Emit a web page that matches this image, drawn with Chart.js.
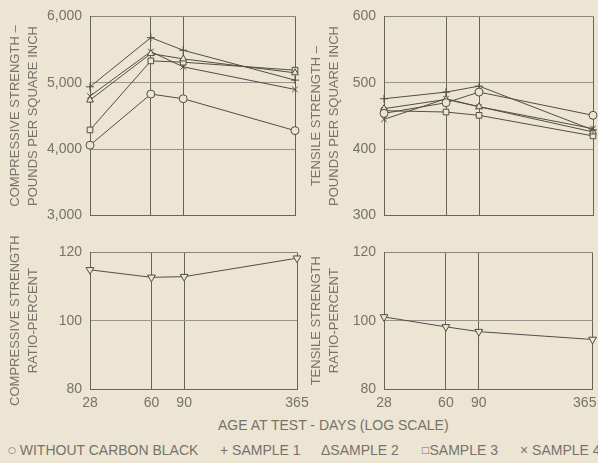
<!DOCTYPE html>
<html lang="en">
	<head>
		<meta charset="UTF-8" />
		<title>Compressive and Tensile Strength vs Age</title>
		<script src="https://cdn.jsdelivr.net/npm/chart.js"></script>
		<style>
			html,
			body {
				margin: 0;
				padding: 0;
				background: #ece5d3;
			}
			#wrap {
				position: relative;
				width: 598px;
				height: 463px;
				overflow: hidden;
				background: #ece5d3;
				font-family: "Liberation Sans", Arial, sans-serif;
				color: #77726a;
			}
			.box {
				position: absolute;
			}
			.txt {
				position: absolute;
				white-space: pre;
				font-size: 14px;
				line-height: 16px;
			}
			.sym {
				font-family: "DejaVu Sans", sans-serif;
				font-size: 9px;
				position: relative;
				top: -2px;
			}
		</style>
	</head>
	<body>
		<div id="wrap">
			<div class="box" style="left: 0; top: 0; width: 300px; height: 232px">
				<canvas id="compChart"></canvas>
			</div>
			<div class="box" style="left: 298px; top: 0; width: 300px; height: 232px">
				<canvas id="tensChart"></canvas>
			</div>
			<div class="box" style="left: 0; top: 236px; width: 320px; height: 180px">
				<canvas id="compRatioChart"></canvas>
			</div>
			<div class="box" style="left: 298px; top: 236px; width: 320px; height: 180px">
				<canvas id="tensRatioChart"></canvas>
			</div>

			<!-- axis title and legend -->
			<div class="txt" style="left: 218px; top: 417px">AGE AT TEST - DAYS (LOG SCALE)</div>
			<div class="txt" style="left: 8px; top: 442px"><span class="sym">○</span> WITHOUT CARBON BLACK</div>
			<div class="txt" style="left: 220px; top: 442px">+ SAMPLE 1</div>
			<div class="txt" style="left: 321px; top: 442px">ΔSAMPLE 2</div>
			<div class="txt" style="left: 421px; top: 442px"><span class="sym">□</span>SAMPLE 3</div>
			<div class="txt" style="left: 520px; top: 442px">× SAMPLE 4</div>
		</div>

		<script>
			// ages in days (log scale)
			const ages = [28, 60, 90, 365];

			const seriesNames = [
				"WITHOUT CARBON BLACK",
				"SAMPLE 1",
				"SAMPLE 2",
				"SAMPLE 3",
				"SAMPLE 4",
			];
			const seriesMarkers = ["circle", "cross", "triangle", "rect", "crossRot"];

			// compressive strength, psi
			const compWithout = [4060, 4830, 4760, 4280];
			const compSample1 = [4940, 5680, 5490, 5040];
			const compSample2 = [4740, 5440, 5360, 5150];
			const compSample3 = [4290, 5330, 5310, 5190];
			const compSample4 = [4800, 5470, 5240, 4900];

			// tensile strength, psi
			const tensWithout = [454, 470, 486, 451];
			const tensSample1 = [476, 486, 495, 429];
			const tensSample2 = [461, 475, 464, 426];
			const tensSample3 = [458, 456, 451, 420];
			const tensSample4 = [445, 476, 464, 431];

			// ratios, percent
			const compRatio = [114.9, 112.7, 112.9, 118.3];
			const tensRatio = [101.1, 98.2, 96.8, 94.5];

			const compTicks = [3000, 4000, 5000, 6000];
			const tensTicks = [300, 400, 500, 600];
			const ratioTicks = [80, 100, 120];

			const bg = "#ece5d3";
			const ink = "#524d46";
			const textColor = "#77726a";

			Chart.defaults.font.family = "'Liberation Sans', Arial, sans-serif";
			Chart.defaults.color = textColor;

			function toPoints(values) {
				return ages.map((a, i) => ({ x: a, y: values[i] }));
			}

			function makeDatasets(seriesList) {
				return seriesList.map((values, i) => ({
					label: seriesNames[i],
					data: toPoints(values),
					borderColor: ink,
					borderWidth: 1,
					pointStyle: seriesMarkers[i],
					pointRadius: 4,
					pointBorderColor: ink,
					pointBackgroundColor: bg,
					pointBorderWidth: 1,
					clip: false,
					tension: 0,
				}));
			}

			// opts: yTicks, yWidth, titleLines, titlePad, showX, padding, lastLabel
			function makeChart(id, datasets, opts) {
				const yMin = opts.yTicks[0];
				const yMax = opts.yTicks[opts.yTicks.length - 1];
				return new Chart(document.getElementById(id), {
					type: "line",
					data: { datasets: datasets },
					options: {
						responsive: true,
						maintainAspectRatio: false,
						animation: false,
						layout: { padding: opts.padding },
						plugins: {
							legend: { display: false },
							tooltip: { enabled: false },
						},
						scales: {
							x: {
								type: "logarithmic",
								min: ages[0],
								max: ages[ages.length - 1],
								afterBuildTicks: (axis) => {
									axis.ticks = ages.map((v) => ({ value: v }));
								},
								afterFit: (axis) => {
									axis.height = opts.showX ? 27 : 0;
								},
								grid: {
									drawTicks: false,
									color: "#67625a",
									lineWidth: 1,
								},
								border: { color: "#67625a", width: 1 },
								ticks: {
									display: opts.showX,
									padding: 6,
									font: { size: 14 },
									color: textColor,
									maxRotation: 0,
									autoSkip: false,
									callback: (v) =>
										v === 365 && opts.lastLabel ? opts.lastLabel : String(v),
								},
							},
							y: {
								min: yMin,
								max: yMax,
								afterBuildTicks: (axis) => {
									axis.ticks = opts.yTicks.map((v) => ({ value: v }));
								},
								afterFit: (axis) => {
									axis.width = opts.yWidth;
								},
								grid: {
									drawTicks: false,
									color: (ctx) =>
										ctx.tick && ctx.tick.value === yMax ? "#8a857c" : "#98928a",
									lineWidth: 1,
								},
								border: { color: "#67625a", width: 1 },
								ticks: {
									padding: 8,
									font: { size: 14 },
									color: textColor,
									callback: (v) => v.toLocaleString("en-US"),
								},
								title: {
									display: true,
									text: opts.titleLines,
									font: { size: 13, lineHeight: 1.4 },
									color: textColor,
									padding: { top: opts.titlePad, bottom: 0 },
								},
							},
						},
					},
				});
			}

			makeChart(
				"compChart",
				makeDatasets([compWithout, compSample1, compSample2, compSample3, compSample4]),
				{
					yTicks: compTicks,
					yWidth: 90,
					titleLines: ["COMPRESSIVE STRENGTH –", "POUNDS PER SQUARE INCH"],
					titlePad: 6,
					showX: false,
					padding: { left: 0, right: 3, top: 14, bottom: 11 },
				}
			);

			makeChart(
				"tensChart",
				makeDatasets([tensWithout, tensSample1, tensSample2, tensSample3, tensSample4]),
				{
					yTicks: tensTicks,
					yWidth: 86,
					titleLines: ["TENSILE STRENGTH –", "POUNDS PER SQUARE INCH"],
					titlePad: 9,
					showX: false,
					padding: { left: 0, right: 4, top: 14, bottom: 11 },
				}
			);

			const ratioStyle = (values, label) => [
				{
					label: label,
					data: toPoints(values),
					borderColor: ink,
					borderWidth: 1,
					pointStyle: "triangle",
					rotation: 180,
					pointRadius: 4.5,
					pointBorderColor: ink,
					pointBackgroundColor: bg,
					pointBorderWidth: 1,
					clip: false,
				},
			];

			makeChart("compRatioChart", ratioStyle(compRatio, "COMPRESSIVE STRENGTH RATIO"), {
				yTicks: ratioTicks,
				yWidth: 90,
				titleLines: ["COMPRESSIVE STRENGTH", "RATIO-PERCENT"],
				titlePad: 6,
				showX: true,
				padding: { left: 0, right: 23, top: 15, bottom: 0 },
			});

			makeChart("tensRatioChart", ratioStyle(tensRatio, "TENSILE STRENGTH RATIO"), {
				yTicks: ratioTicks,
				yWidth: 86,
				titleLines: ["TENSILE STRENGTH", "RATIO-PERCENT"],
				titlePad: 9,
				showX: true,
				padding: { left: 0, right: 24, top: 15, bottom: 0 },
				lastLabel: "365    ",
			});
		</script>
	</body>
</html>
